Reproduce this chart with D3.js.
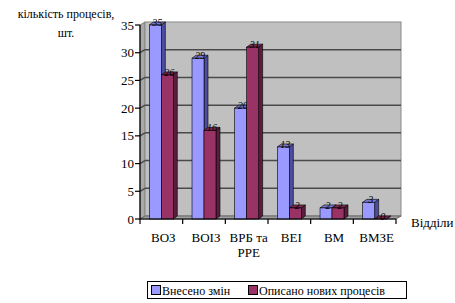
<!DOCTYPE html>
<html>
<head>
<meta charset="utf-8">
<script src="https://cdn.jsdelivr.net/npm/d3@7"></script>
</head>
<body style="margin:0">
<script>
// data
const categories = ["ВОЗ", "ВОІЗ", "ВРБ та\nРРЕ", "ВЕІ", "ВМ", "ВМЗЕ"];
const seriesNames = ["Внесено змін", "Описано нових процесів"];
const changed = [35, 29, 20, 13, 2, 3];
const described = [26, 16, 31, 2, 2, 0];
const yTicks = [0, 5, 10, 15, 20, 25, 30, 35];

const width = 455, height = 303;
const colors = [
  { front: "#9999ff", side: "#4d4d9e", top: "#7777cc" },
  { front: "#993366", side: "#5a1d3c", top: "#7a2850" }
];
const serif = "Tinos";

// 3D offsets
const wallDx = 5, wallDy = -3;
const barDx = 4, barDy = -3;

const svg = d3.select("body")
    .append("svg")
    .attr("width", width)
    .attr("height", height);

const x0 = d3.scaleBand()
    .domain(categories)
    .range([140, 396]);

const x1 = d3.scaleBand()
    .domain(seriesNames)
    .range([0, x0.bandwidth()])
    .paddingOuter(0.78);

const y = d3.scaleLinear()
    .domain([0, 35])
    .range([219, 25]);

const x0L = x0.range()[0], x0R = x0.range()[1];

// left wall
svg.append("polygon")
    .attr("points", [[x0L, y(0)], [x0L, y(35)], [x0L + wallDx, y(35) + wallDy], [x0L + wallDx, y(0) + wallDy]].join(" "))
    .attr("fill", "#a8a8a8")
    .attr("stroke", "#808080");

// back wall
svg.append("rect")
    .attr("x", x0L + wallDx)
    .attr("y", y(35) + wallDy)
    .attr("width", x0R - x0L)
    .attr("height", y(0) - y(35))
    .attr("fill", "#c0c0c0")
    .attr("stroke", "#888")
    .attr("stroke-width", 1);

// floor
svg.append("polygon")
    .attr("points", [[x0L, y(0)], [x0R, y(0)], [x0R + wallDx, y(0) + wallDy], [x0L + wallDx, y(0) + wallDy]].join(" "))
    .attr("fill", "#a0a0a0")
    .attr("stroke", "#666");

// gridlines on back and left wall
const grid = svg.append("g");
yTicks.filter(d => d > 0 && d < 35).forEach(d => {
  grid.append("line")
      .attr("x1", x0L + wallDx).attr("x2", x0R + wallDx)
      .attr("y1", y(d) + wallDy).attr("y2", y(d) + wallDy)
      .attr("stroke", "#4a4a4a").attr("stroke-width", 1.5);
  grid.append("line")
      .attr("x1", x0L).attr("x2", x0L + wallDx)
      .attr("y1", y(d)).attr("y2", y(d) + wallDy)
      .attr("stroke", "#4a4a4a").attr("stroke-width", 1.5);
});

// bars
const rows = categories.map((c, i) => ({ cat: c, vals: [changed[i], described[i]] }));
const bars = svg.append("g");
rows.forEach(r => {
  r.vals.forEach((v, j) => {
    const bx = x0(r.cat) + x1(seriesNames[j]);
    const bw = x1.bandwidth();
    const by = y(v), b0 = y(0);
    const c = colors[j];
    const g = bars.append("g").attr("stroke", "#000").attr("stroke-width", 0.6);
    // side face
    g.append("polygon")
        .attr("points", [[bx + bw, b0], [bx + bw, by], [bx + bw + barDx, by + barDy], [bx + bw + barDx, b0 + barDy]].join(" "))
        .attr("fill", c.side);
    // top face
    g.append("polygon")
        .attr("points", [[bx, by], [bx + bw, by], [bx + bw + barDx, by + barDy], [bx + barDx, by + barDy]].join(" "))
        .attr("fill", c.top);
    // front face
    g.append("rect")
        .attr("x", bx).attr("y", by)
        .attr("width", bw).attr("height", b0 - by)
        .attr("fill", c.front);
    // value label
    bars.append("text")
        .attr("x", bx + bw / 2 + 2)
        .attr("y", by + 1)
        .attr("text-anchor", "middle")
        .attr("font-family", serif)
        .attr("font-size", 10)
        .attr("font-style", "italic")
        .text(v);
  });
});

// y axis
svg.append("line")
    .attr("x1", x0L).attr("x2", x0L)
    .attr("y1", y(0)).attr("y2", y(35))
    .attr("stroke", "#000").attr("stroke-width", 1.2);
const yAxis = svg.append("g");
yTicks.forEach(d => {
  yAxis.append("line")
      .attr("x1", x0L - 5).attr("x2", x0L)
      .attr("y1", y(d)).attr("y2", y(d))
      .attr("stroke", "#000").attr("stroke-width", 1.2);
  yAxis.append("text")
      .attr("x", x0L - 6)
      .attr("y", y(d) + 4.5)
      .attr("text-anchor", "end")
      .attr("font-family", serif)
      .attr("font-size", 13)
      .text(d);
});

// x axis
svg.append("line")
    .attr("x1", x0L).attr("x2", x0R)
    .attr("y1", y(0)).attr("y2", y(0))
    .attr("stroke", "#000").attr("stroke-width", 1.2);
const xAxis = svg.append("g");
categories.concat([null]).forEach(c => {
  const tx = c === null ? x0R : x0(c);
  xAxis.append("line")
      .attr("x1", tx).attr("x2", tx)
      .attr("y1", y(0)).attr("y2", y(0) + 5)
      .attr("stroke", "#000").attr("stroke-width", 1.2);
});
categories.forEach(c => {
  const cx = x0(c) + x0.bandwidth() / 2 + 2;
  const t = xAxis.append("text")
      .attr("x", cx)
      .attr("y", 242)
      .attr("text-anchor", "middle")
      .attr("font-family", serif)
      .attr("font-size", 13);
  c.split("\n").forEach((line, k) => {
    t.append("tspan")
        .attr("x", cx)
        .attr("dy", k === 0 ? 0 : 15)
        .text(line);
  });
});

// axis titles
svg.append("text")
    .attr("x", 411).attr("y", 227)
    .attr("font-family", serif)
    .attr("font-size", 13)
    .text("Відділи");
const yTitle = svg.append("text")
    .attr("text-anchor", "middle")
    .attr("font-family", serif)
    .attr("font-size", 12);
yTitle.append("tspan").attr("x", 66).attr("y", 18).text("кількість процесів,");
yTitle.append("tspan").attr("x", 66).attr("y", 37).text("шт.");

// legend
const legend = svg.append("g");
legend.append("rect")
    .attr("x", 147.5).attr("y", 281.5)
    .attr("width", 259).attr("height", 17)
    .attr("fill", "#fff")
    .attr("stroke", "#000");
const legendX = [151, 248];
seriesNames.forEach((s, i) => {
  legend.append("rect")
      .attr("x", legendX[i] + 0.5).attr("y", 285.5)
      .attr("width", 9).attr("height", 9)
      .attr("fill", colors[i].front)
      .attr("stroke", "#000");
  legend.append("text")
      .attr("x", legendX[i] + 11)
      .attr("y", 294.5)
      .attr("font-family", serif)
      .attr("font-size", 12)
      .text(s);
});
</script>
</body>
</html>
